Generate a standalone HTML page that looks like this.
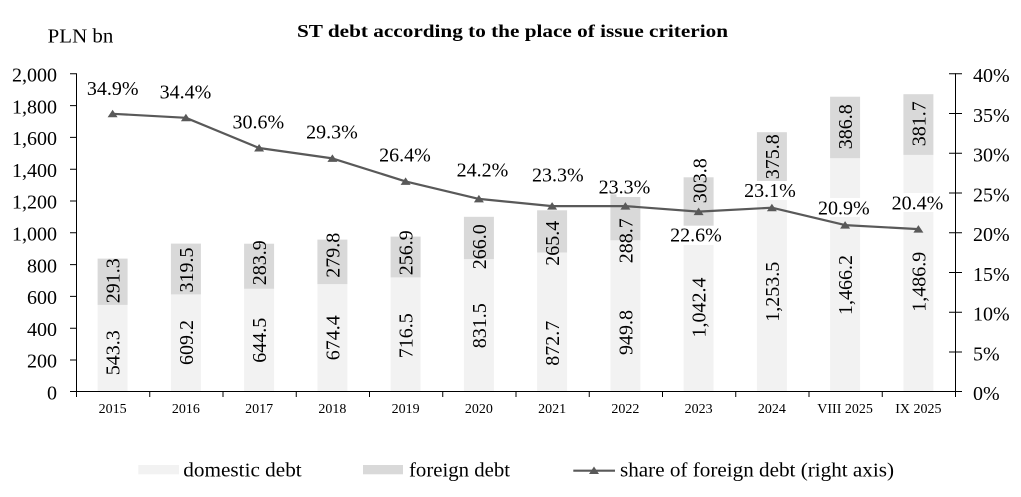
<!DOCTYPE html>
<html>
<head>
<meta charset="utf-8">
<style>
html,body{margin:0;padding:0;background:#fff;}
svg{display:block;}
text{font-family:"Liberation Serif","Times New Roman",serif;fill:#000;}
</style>
</head>
<body>
<svg width="1021" height="497" viewBox="0 0 1021 497" xmlns="http://www.w3.org/2000/svg">
<rect x="0" y="0" width="1021" height="497" fill="#fff"/>

<!-- Title -->
<text x="297" y="37" font-size="18" font-weight="bold" textLength="431" lengthAdjust="spacingAndGlyphs">ST debt according to the place of issue criterion</text>
<text x="47.7" y="42.7" font-size="20" textLength="65.6" lengthAdjust="spacingAndGlyphs">PLN bn</text>

<!-- Bars: domestic -->
<g fill="#f2f2f2">
<rect x="97.6" y="304.9" width="30" height="86.4"/>
<rect x="170.9" y="294.4" width="30" height="96.9"/>
<rect x="244.1" y="288.8" width="30" height="102.5"/>
<rect x="317.4" y="284.1" width="30" height="107.2"/>
<rect x="390.6" y="277.4" width="30" height="113.9"/>
<rect x="463.9" y="259.1" width="30" height="132.2"/>
<rect x="537.1" y="252.5" width="30" height="138.8"/>
<rect x="610.4" y="240.3" width="30" height="151.0"/>
<rect x="683.6" y="225.6" width="30" height="165.7"/>
<rect x="756.9" y="192.0" width="30" height="199.3"/>
<rect x="830.1" y="158.2" width="30" height="233.1"/>
<rect x="903.4" y="154.9" width="30" height="236.4"/>
</g>
<!-- Bars: foreign -->
<g fill="#d9d9d9">
<rect x="97.6" y="258.6" width="30" height="46.3"/>
<rect x="170.9" y="243.6" width="30" height="50.8"/>
<rect x="244.1" y="243.7" width="30" height="45.1"/>
<rect x="317.4" y="239.6" width="30" height="44.5"/>
<rect x="390.6" y="236.6" width="30" height="40.8"/>
<rect x="463.9" y="216.8" width="30" height="42.3"/>
<rect x="537.1" y="210.3" width="30" height="42.2"/>
<rect x="610.4" y="194.4" width="30" height="45.9"/>
<rect x="683.6" y="177.3" width="30" height="48.3"/>
<rect x="756.9" y="132.2" width="30" height="59.8"/>
<rect x="830.1" y="96.7" width="30" height="61.5"/>
<rect x="903.4" y="94.2" width="30" height="60.7"/>
</g>

<!-- Axes -->
<g stroke="#000" stroke-width="1" fill="none">
<line x1="76.5" y1="73.3" x2="76.5" y2="391.5"/>
<line x1="955.5" y1="73.3" x2="955.5" y2="391.5"/>
<line x1="76" y1="391.5" x2="956" y2="391.5"/>
<!-- left ticks -->
<path d="M70 73.8H76 M70 105.6H76 M70 137.4H76 M70 169.2H76 M70 201H76 M70 232.8H76 M70 264.6H76 M70 296.4H76 M70 328.2H76 M70 360H76 M70 391.5H76"/>
<!-- right ticks -->
<path d="M949 73.8H962 M949 113.5H962 M949 153.3H962 M949 193H962 M949 232.8H962 M949 272.5H962 M949 312.3H962 M949 352H962 M949 391.5H962"/>
<!-- category ticks -->
<path d="M76.5 391V397 M149.75 391V397 M223 391V397 M296.25 391V397 M369.5 391V397 M442.75 391V397 M516 391V397 M589.25 391V397 M662.5 391V397 M735.75 391V397 M809 391V397 M882.25 391V397 M955.5 391V397"/>
</g>

<!-- Left axis labels -->
<g font-size="20" text-anchor="end">
<text x="57" y="81.5">2,000</text>
<text x="57" y="113.3">1,800</text>
<text x="57" y="145.1">1,600</text>
<text x="57" y="176.9">1,400</text>
<text x="57" y="208.7">1,200</text>
<text x="57" y="240.5">1,000</text>
<text x="57" y="272.3">800</text>
<text x="57" y="304.1">600</text>
<text x="57" y="335.9">400</text>
<text x="57" y="367.7">200</text>
<text x="57" y="399.5">0</text>
</g>
<!-- Right axis labels -->
<g font-size="20" text-anchor="start">
<text x="973" y="82">40%</text>
<text x="973" y="121.8">35%</text>
<text x="973" y="161.5">30%</text>
<text x="973" y="201.3">25%</text>
<text x="973" y="241">20%</text>
<text x="973" y="280.8">15%</text>
<text x="973" y="320.5">10%</text>
<text x="973" y="360.3">5%</text>
<text x="973" y="400">0%</text>
</g>
<!-- Category labels -->
<g font-size="14" text-anchor="middle">
<text x="112.6" y="413">2015</text>
<text x="185.9" y="413">2016</text>
<text x="259.1" y="413">2017</text>
<text x="332.4" y="413">2018</text>
<text x="405.6" y="413">2019</text>
<text x="478.9" y="413">2020</text>
<text x="552.1" y="413">2021</text>
<text x="625.4" y="413">2022</text>
<text x="698.6" y="413">2023</text>
<text x="771.9" y="413">2024</text>
<text x="845.1" y="413">VIII 2025</text>
<text x="918.4" y="413">IX 2025</text>
</g>

<!-- Share line -->
<polyline fill="none" stroke="#595959" stroke-width="2.2" stroke-linejoin="round"
 points="112.6,113.8 185.9,117.8 259.1,148.0 332.4,158.4 405.6,181.4 478.9,198.9 552.1,206.1 625.4,206.1 698.6,211.6 771.9,207.7 845.1,225.1 918.4,229.1"/>
<g fill="#595959">
<path d="M112.6 109.8L117.6 117.3L107.6 117.3Z"/>
<path d="M185.9 113.8L190.9 121.3L180.9 121.3Z"/>
<path d="M259.1 144.0L264.1 151.5L254.1 151.5Z"/>
<path d="M332.4 154.4L337.4 161.9L327.4 161.9Z"/>
<path d="M405.6 177.4L410.6 184.9L400.6 184.9Z"/>
<path d="M478.9 194.9L483.9 202.4L473.9 202.4Z"/>
<path d="M552.1 202.1L557.1 209.6L547.1 209.6Z"/>
<path d="M625.4 202.1L630.4 209.6L620.4 209.6Z"/>
<path d="M698.6 207.6L703.6 215.1L693.6 215.1Z"/>
<path d="M771.9 203.7L776.9 211.2L766.9 211.2Z"/>
<path d="M845.1 221.1L850.1 228.6L840.1 228.6Z"/>
<path d="M918.4 225.1L923.4 232.6L913.4 232.6Z"/>
</g>

<!-- Bar value labels (rotated) -->
<g font-size="20" text-anchor="middle">
<text transform="translate(119.6,352.8) rotate(-90)">543.3</text>
<text transform="translate(192.9,342.5) rotate(-90)">609.2</text>
<text transform="translate(266.1,340.3) rotate(-90)">644.5</text>
<text transform="translate(339.4,337.8) rotate(-90)">674.4</text>
<text transform="translate(412.6,335.8) rotate(-90)">716.5</text>
<text transform="translate(485.9,325.7) rotate(-90)">831.5</text>
<text transform="translate(559.1,343.3) rotate(-90)">872.7</text>
<text transform="translate(632.4,332.5) rotate(-90)">949.8</text>
<text transform="translate(705.6,307.5) rotate(-90)">1,042.4</text>
<text transform="translate(778.9,291.7) rotate(-90)">1,253.5</text>
<text transform="translate(852.1,285) rotate(-90)">1,466.2</text>
<text transform="translate(925.4,281.7) rotate(-90)">1,486.9</text>

<text transform="translate(119.6,280.8) rotate(-90)">291.3</text>
<text transform="translate(192.9,270) rotate(-90)">319.5</text>
<text transform="translate(266.1,262.7) rotate(-90)">283.9</text>
<text transform="translate(339.4,255.3) rotate(-90)">279.8</text>
<text transform="translate(412.6,252.7) rotate(-90)">256.9</text>
<text transform="translate(485.9,246.7) rotate(-90)">266.0</text>
<text transform="translate(559.1,243.3) rotate(-90)">265.4</text>
<text transform="translate(632.4,240.8) rotate(-90)">288.7</text>
<text transform="translate(706.6,180.8) rotate(-90)">303.8</text>
<text transform="translate(778.9,156.7) rotate(-90)">375.8</text>
<text transform="translate(852.1,126.7) rotate(-90)">386.8</text>
<text transform="translate(925.4,123.7) rotate(-90)">381.7</text>
</g>

<!-- Percentage labels with white background -->
<g fill="#fff">
<rect x="616.5" y="178" width="56" height="19"/>
<rect x="668" y="226" width="56" height="19"/>
<rect x="742" y="181" width="56" height="19"/>
<rect x="815.8" y="198" width="56" height="19"/>
<rect x="889.5" y="193" width="56" height="19"/>
</g>
<g font-size="20" text-anchor="middle">
<text x="112.7" y="95">34.9%</text>
<text x="185.5" y="98.3">34.4%</text>
<text x="258.3" y="128.3">30.6%</text>
<text x="332" y="138.3">29.3%</text>
<text x="405" y="161.7">26.4%</text>
<text x="482.5" y="176.7">24.2%</text>
<text x="557.8" y="181.7">23.3%</text>
<text x="624.5" y="193.3">23.3%</text>
<text x="696" y="241.7">22.6%</text>
<text x="770" y="197">23.1%</text>
<text x="843.8" y="214.5">20.9%</text>
<text x="917.5" y="209.3">20.4%</text>
</g>

<!-- Legend -->
<rect x="138.3" y="465" width="40.7" height="9.3" fill="#f2f2f2"/>
<text x="183.3" y="476.7" font-size="20" textLength="118.4" lengthAdjust="spacingAndGlyphs">domestic debt</text>
<rect x="363" y="465" width="40" height="9.3" fill="#d9d9d9"/>
<text x="409" y="476.7" font-size="20" textLength="101" lengthAdjust="spacingAndGlyphs">foreign debt</text>
<line x1="573.3" y1="470.7" x2="615" y2="470.7" stroke="#595959" stroke-width="2.2"/>
<path d="M594 466.5L599 474L589 474Z" fill="#595959"/>
<text x="620" y="476.7" font-size="20" textLength="274" lengthAdjust="spacingAndGlyphs">share of foreign debt (right axis)</text>
</svg>
</body>
</html>
